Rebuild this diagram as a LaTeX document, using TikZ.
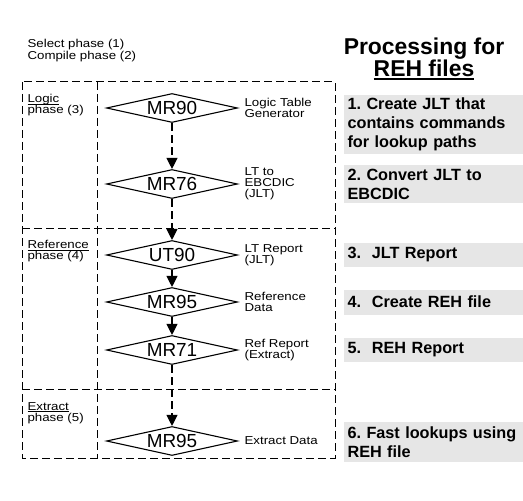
\documentclass[tikz,border=0pt]{standalone}
\usepackage{fontspec}
\setmainfont{Liberation Sans}
\newfontfamily\widefont[FakeStretch=1.16]{Liberation Sans}
\usetikzlibrary{arrows.meta, positioning, shapes.geometric}
\definecolor{cstep}{HTML}{E6E6E6}
\frenchspacing
\newsavebox\ulbox
% underline at a fixed depth: [thickness][depth]{text}
\newcommand\ulword[3]{\sbox\ulbox{#3}\leavevmode\rlap{\rule[-#2]{\wd\ulbox}{#1}}\usebox\ulbox}
\tikzset{
  every picture/.style={line width=1.1bp},
  prog/.style={diamond, draw, aspect=4.5, minimum width=131bp, minimum height=29bp, inner sep=0pt, font=\fontsize{19}{19}\selectfont},
  note/.style={font=\widefont\fontsize{11.5}{11}\selectfont, align=left, inner sep=0pt},
  phase/.style={draw, line width=1bp, dash pattern=on 8bp off 4bp},
  flow/.style={-{Triangle[length=11bp, width=11bp]}},
  dashflow/.style={flow, dash pattern=on 8bp off 4bp},
  stepbox/.style={fill=cstep, anchor=west, minimum width=180bp, text width=172bp, inner xsep=4bp, inner ysep=0pt, align=left, font=\bfseries\fontsize{16.3}{19}\selectfont},
  title/.style={font=\bfseries\fontsize{23}{20}\selectfont, align=center, inner sep=0pt},
}

\begin{document}
\begin{tikzpicture}[x=1bp, y=-1bp]
  \useasboundingbox (0,0) rectangle (523,501);
  % phase frames
  \draw[phase] (22,82) rectangle (335,458);
  \draw[phase] (97,82) -- (97,458);
  \foreach \py in {228, 389}
    \draw[phase] (22,\py) -- (335,\py);
  \node[note, anchor=north west, font=\widefont\fontsize{11.5}{9.5}\selectfont] (sel) at (27,39) {Select phase (1)\\Compile phase (2)};
  \node[note, anchor=north west] (logic) at (27,94) {\ulword{0.6bp}{1.6bp}{Logic}\\phase (3)};
  \node[note, anchor=north west] (ref) at (27,240) {\ulword{0.6bp}{1.6bp}{Reference}\\phase (4)};
  \node[note, anchor=north west] (ext) at (27,402) {\ulword{0.6bp}{1.6bp}{Extract}\\phase (5)};
  % programs
  \node[prog] (mr90) at (172,108) {MR90};
  \node[prog] (mr76) at (172,184) {MR76};
  \node[prog] (ut90) at (172,255) {UT90};
  \node[prog] (mr95) at (172,302) {MR95};
  \node[prog] (mr71) at (172,350) {MR71};
  \node[prog] (mr95x) at (172,441) {MR95};
  \node[note, right=6bp of mr90] (n90) {Logic Table\\Generator};
  \node[note, right=6bp of mr76] (n76) {LT to\\EBCDIC\\(JLT)};
  \node[note, right=6bp of ut90] (nut) {LT Report\\(JLT)};
  \node[note, right=6bp of mr95] (n95) {Reference\\Data};
  \node[note, right=6bp of mr71] (n71) {Ref Report\\(Extract)};
  \node[note, right=6bp of mr95x] (n95x) {Extract Data};
  \draw[dashflow] (mr90) -- (mr76);
  \draw[dashflow] (mr76) -- (ut90);
  \draw[flow] (ut90) -- (mr95);
  \draw[flow] (mr95) -- (mr71);
  \draw[dashflow] (mr71) -- (mr95x);
  % steps
  \node[title, anchor=north] (head) at (424,37) {Processing for\\\ulword{1.8bp}{3.2bp}{REH files}};
  \node[stepbox, anchor=north west, minimum height=59bp] (s1) at (343,94) {1. Create JLT that contains commands for lookup paths};
  \node[stepbox, minimum height=38bp] (s2) at (343,184) {2. Convert JLT to EBCDIC};
  \node[stepbox, minimum height=24bp] (s3) at (343,255) {3.\ \ JLT Report};
  \node[stepbox, minimum height=25bp] (s4) at (343,302) {4.\ \ Create REH file};
  \node[stepbox, minimum height=24bp] (s5) at (343,350) {5.\ \ REH Report};
  \node[stepbox, minimum height=40bp] (s6) at (343,442) {6. Fast lookups using REH file};
\end{tikzpicture}
\end{document}
